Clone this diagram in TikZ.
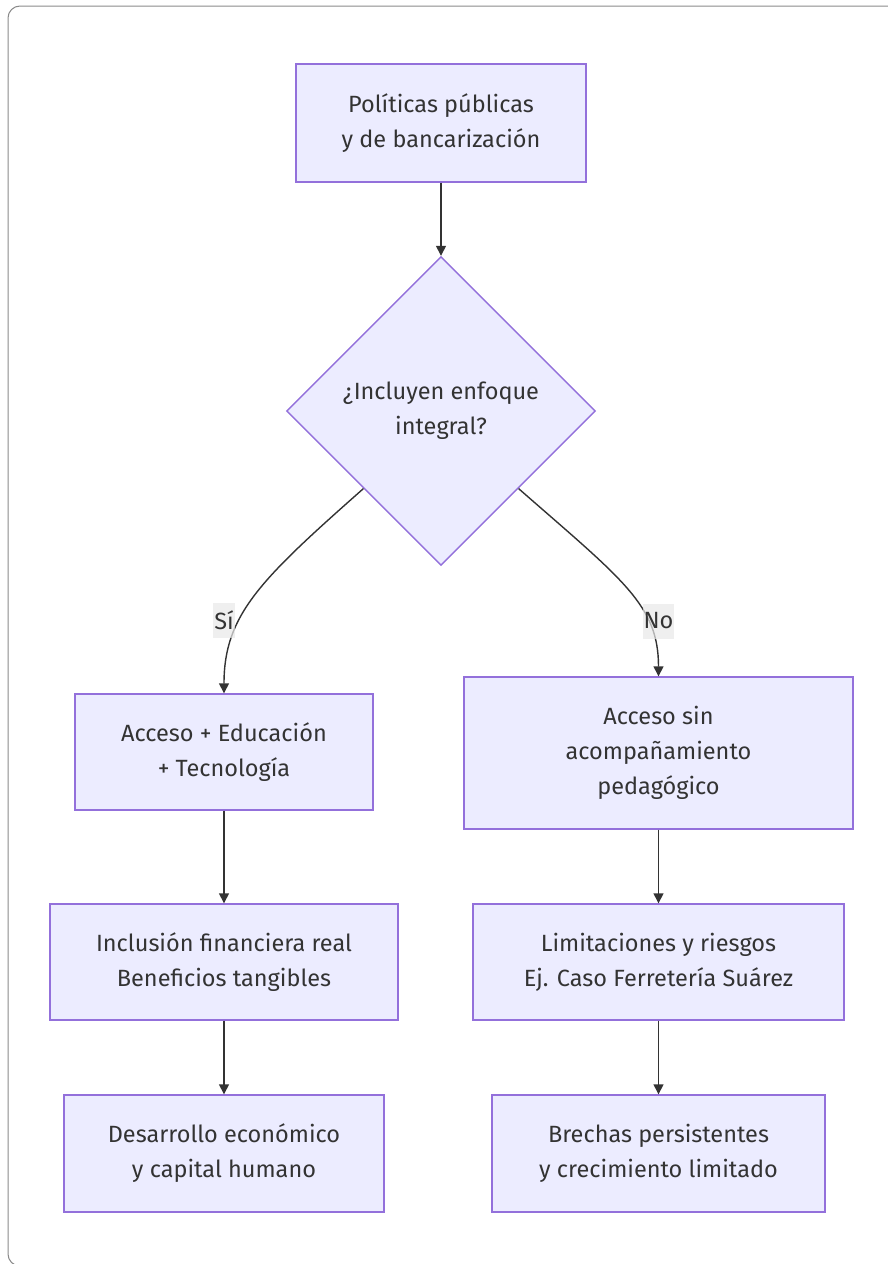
\documentclass[tikz,border=0pt]{standalone}
\usepackage{fontspec}
\setmainfont{Fira Sans}
\usetikzlibrary{shapes.geometric,arrows.meta}
\definecolor{boxfill}{HTML}{ECECFF}
\definecolor{boxline}{HTML}{9370DB}
\definecolor{ink}{HTML}{333333}
\definecolor{labelbg}{HTML}{E8E8E8}
\definecolor{frame}{HTML}{8A8A8A}
\begin{document}
\begin{tikzpicture}[x=1pt,y=-1pt,
  every node/.style={font=\fontsize{23.5}{35}\selectfont, text=ink},
  stepbox/.style={draw=boxline, fill=boxfill, line width=1.4pt, align=center, inner sep=0pt},
  decision/.style={diamond, draw=boxline, fill=boxfill, line width=1.4pt, align=center, inner sep=0pt, minimum width=309pt, minimum height=309pt},
  flow/.style={draw=ink, line width=1.4pt, -{Triangle[length=10pt,width=10pt]}},
  edgelabel/.style={fill=labelbg, fill opacity=0.7, text opacity=1, inner sep=0pt, minimum height=35pt, inner xsep=1pt}
]
\useasboundingbox (0,0) rectangle (887,1264);
% outer card frame
\draw[frame, line width=1pt, rounded corners=12pt] (900,1266) -- (8,1266) -- (8,6) -- (900,6);

% nodes
\node[stepbox, minimum width=290pt, minimum height=118pt] (pol) at (441,123) {Políticas públicas\\y de bancarización};
\node[decision] (dec) at (441,411) {¿Incluyen enfoque\\integral?};
\node[stepbox, minimum width=298pt, minimum height=116pt] (acc) at (224,752) {Acceso + Educación\\+ Tecnología};
\node[stepbox, minimum width=389pt, minimum height=152pt] (sin) at (658.5,753) {Acceso sin\\acompañamiento\\pedagógico};
\node[stepbox, minimum width=348pt, minimum height=116pt] (inc) at (224,962) {Inclusión financiera real\\Beneficios tangibles};
\node[stepbox, minimum width=371pt, minimum height=116pt] (lim) at (658.5,962) {Limitaciones y riesgos\\Ej. Caso Ferretería Suárez};
\node[stepbox, minimum width=320pt, minimum height=117pt] (des) at (224,1153.5) {Desarrollo económico\\y capital humano};
\node[stepbox, minimum width=333pt, minimum height=117pt] (bre) at (658.5,1153.5) {Brechas persistentes\\y crecimiento limitado};

% connectors
\draw[flow] (pol.south) -- (dec.north);
\draw[flow] (dec.south west) .. controls (260,580) and (224,615) .. (acc.north);
\draw[flow] (dec.south east) .. controls (623,580) and (658.5,605) .. (sin.north);
\draw[flow] (acc.south) -- (inc.north);
\draw[flow] (inc.south) -- (des.north);
\draw[flow] (sin.south) -- (lim.north);
\draw[flow] (lim.south) -- (bre.north);

% branch labels
\node[edgelabel] (si) at (224,620) {Sí};
\node[edgelabel] (no) at (658.5,621) {No};
\end{tikzpicture}
\end{document}
